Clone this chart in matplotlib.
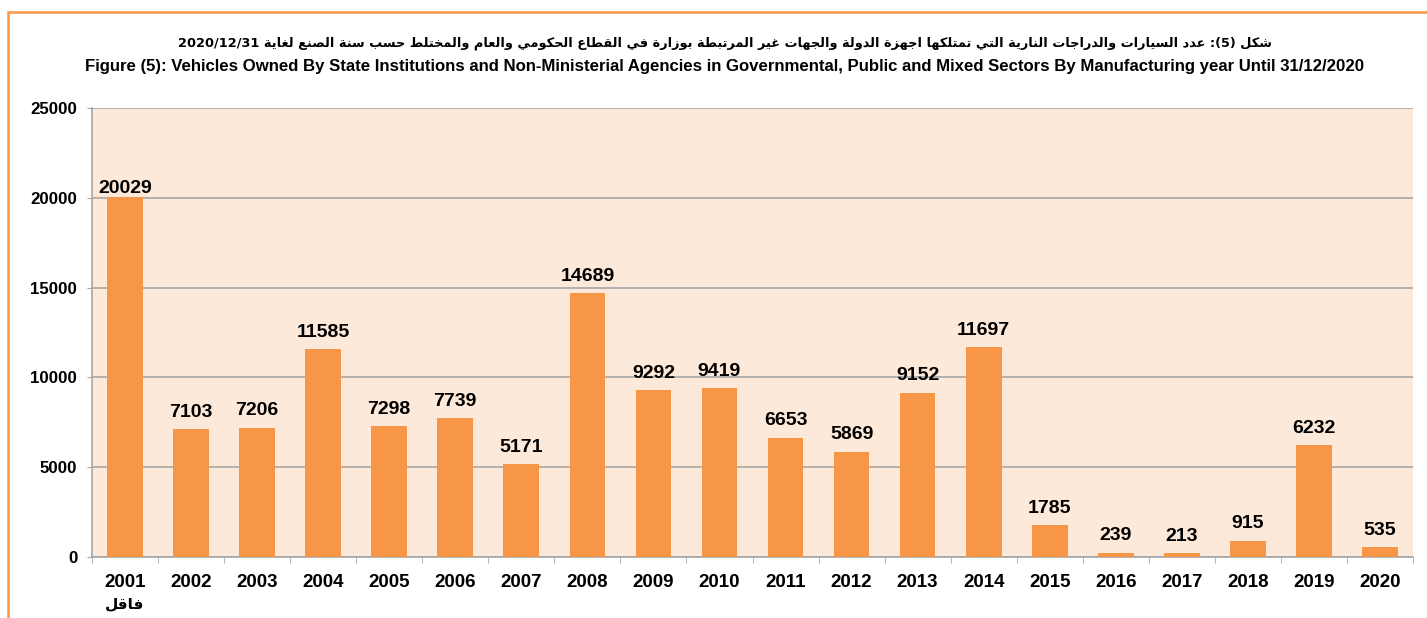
import re
import matplotlib
matplotlib.use('Agg')
import matplotlib.pyplot as plt
from matplotlib.patches import Rectangle
import numpy as np

# Data
years = ['2001', '2002', '2003', '2004', '2005', '2006', '2007', '2008', '2009', '2010',
         '2011', '2012', '2013', '2014', '2015', '2016', '2017', '2018', '2019', '2020']
vehicles = [20029, 7103, 7206, 11585, 7298, 7739, 5171, 14689, 9292, 9419,
            6653, 5869, 9152, 11697, 1785, 239, 213, 915, 6232, 535]
y_ticks = [0, 5000, 10000, 15000, 20000, 25000]

title_ar = ('شكل (5): عدد السيارات والدراجات النارية التي تمتلكها اجهزة الدولة والجهات غير '
            'المرتبطة بوزارة في القطاع الحكومي والعام والمختلط حسب سنة الصنع لغاية 2020/12/31')
title_en = ('Figure (5): Vehicles Owned By State Institutions and Non-Ministerial Agencies in '
            'Governmental, Public and Mixed Sectors By Manufacturing year Until 31/12/2020')
first_note = 'فاقل'

# minimal arabic shaping (matplotlib has no shaping / bidi)
FORMS = {
    'ا': (0xFE8D, 2), 'ب': (0xFE8F, 4), 'ة': (0xFE93, 2), 'ت': (0xFE95, 4),
    'ث': (0xFE99, 4), 'ج': (0xFE9D, 4), 'ح': (0xFEA1, 4), 'خ': (0xFEA5, 4),
    'د': (0xFEA9, 2), 'ذ': (0xFEAB, 2), 'ر': (0xFEAD, 2), 'ز': (0xFEAF, 2),
    'س': (0xFEB1, 4), 'ش': (0xFEB5, 4), 'ص': (0xFEB9, 4), 'ض': (0xFEBD, 4),
    'ط': (0xFEC1, 4), 'ظ': (0xFEC5, 4), 'ع': (0xFEC9, 4), 'غ': (0xFECD, 4),
    'ف': (0xFED1, 4), 'ق': (0xFED5, 4), 'ك': (0xFED9, 4), 'ل': (0xFEDD, 4),
    'م': (0xFEE1, 4), 'ن': (0xFEE5, 4), 'ه': (0xFEE9, 4), 'و': (0xFEED, 2),
    'ى': (0xFEEF, 2), 'ي': (0xFEF1, 4),
}
MIRROR = {'(': ')', ')': '('}


def shape(text):
    out = []
    for i, ch in enumerate(text):
        if ch not in FORMS:
            out.append(ch)
            continue
        base, n = FORMS[ch]
        prev = text[i - 1] if i > 0 else ''
        nxt = text[i + 1] if i + 1 < len(text) else ''
        jp = prev in FORMS and FORMS[prev][1] == 4
        jn = n == 4 and nxt in FORMS
        k = 3 if (jp and jn) else 2 if jn else 1 if jp else 0
        out.append(chr(base + k))
    tokens = re.findall(r'[0-9A-Za-z/.]+|.', ''.join(out))
    return ''.join(MIRROR.get(t, t) for t in reversed(tokens))


def fit_width(txt, target_px):
    # shrink/grow a text so it spans target_px on the canvas
    r = fig.canvas.get_renderer()
    w = txt.get_window_extent(renderer=r).width
    txt.set_fontsize(txt.get_fontsize() * target_px / w)


W, H = 1427, 618
fig = plt.figure(figsize=(W / 100, H / 100), dpi=100)
ax = fig.add_axes([92 / W, 1 - 557 / H, (1413 - 92) / W, (557 - 108) / H])

bar_color = '#F79646'
ax.set_facecolor('#FDE9D9')
x = np.arange(len(years))
ax.bar(x, vehicles, width=0.54, color=bar_color, zorder=3)

for xi, v in zip(x, vehicles):
    off = 0 if v > 19000 else 6
    ax.annotate(str(v), (xi, v), xytext=(0, off), textcoords='offset points',
                ha='center', va='bottom', fontsize=14, fontweight='bold',
                family='Liberation Sans', zorder=4)

ax.set_xlim(-0.5, len(years) - 0.5)
ax.set_ylim(0, 25000)
ax.set_yticks(y_ticks)
ax.set_yticklabels([str(t) for t in y_ticks], fontsize=12.2, fontweight='bold',
                   family='Liberation Sans')
ax.set_xticks(x)
ax.set_xticklabels(years, fontsize=13.5, fontweight='bold', family='Liberation Sans')
ax.set_xticks(np.arange(-0.5, len(years)), minor=True)
ax.tick_params(axis='x', which='major', length=0, pad=12)
ax.tick_params(axis='x', which='minor', length=4, color='#A6A6A6', direction='out')
ax.tick_params(axis='y', length=3.6, color='#A6A6A6', pad=7)
ax.yaxis.grid(True, color='#A6A6A6', linewidth=1.2, zorder=1)
ax.set_axisbelow(True)
for s in ['top', 'right']:
    ax.spines[s].set_visible(False)
for s in ['left', 'bottom']:
    ax.spines[s].set_color('#A6A6A6')
    ax.spines[s].set_linewidth(1.2)

ax.text(0, -0.105, shape(first_note), transform=ax.get_xaxis_transform(),
        ha='center', va='center', fontsize=11, fontweight='bold', family='DejaVu Sans')

t_ar = fig.text(725 / W, 1 - 43 / H, shape(title_ar), ha='center', va='center',
                fontsize=10, fontweight='bold', family='DejaVu Sans')
t_en = fig.text(725 / W, 1 - 67 / H, title_en, ha='center', va='center',
                fontsize=11, fontweight='bold', family='Liberation Sans')
fit_width(t_ar, 1100)
fit_width(t_en, 1290)

# orange frame around the figure
fig.patches.append(Rectangle((8 / W, -0.1), 1.2, 1 - 12 / H + 0.1, transform=fig.transFigure,
                             fill=False, edgecolor=bar_color, linewidth=1.8))

fig.savefig('out.png', dpi=100)
